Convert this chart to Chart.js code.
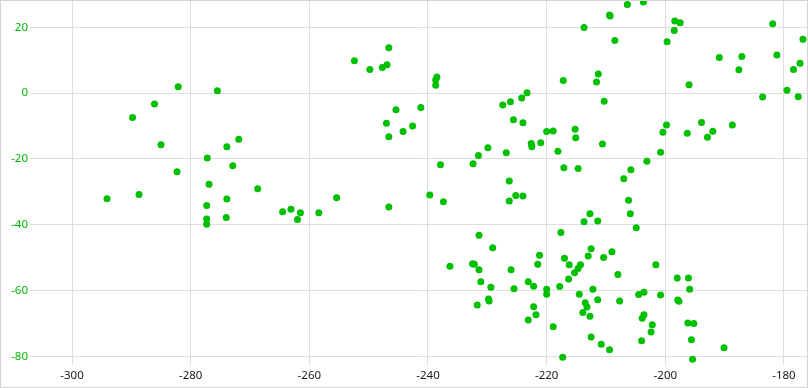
<!DOCTYPE html>
<html>
<head>
<meta charset="utf-8">
<script src="https://cdn.jsdelivr.net/npm/chart.js@4/dist/chart.umd.min.js"></script>
<style>
  html, body { margin: 0; padding: 0; background: #ffffff; }
  #wrap { width: 808px; height: 388px; box-sizing: border-box; border: 1px solid #d4d4d4; background: #fff; }
  canvas { display: block; }
</style>
</head>
<body>
<div id="wrap"><canvas id="c" width="806" height="386"></canvas></div>
<script>
const xValues = [
  -282.1, -275.5, -286.1, -289.8, -285.0, -273.9, -271.9, -277.2, -272.9, -282.3,
  -276.9, -268.7, -288.7, -294.1, -273.9, -277.3, -277.3, -277.3, -274.0, -252.4,
  -249.8, -247.7, -246.9, -246.6, -238.7, -238.7, -238.5, -245.4, -241.2, -247.0,
  -246.6, -244.2, -242.6, -227.4, -226.1, -224.2, -223.3, -225.6, -224.0, -229.9,
  -231.5, -232.4, -226.8, -222.6, -222.5, -221.0, -237.9, -226.3, -225.2, -224.0,
  -226.3, -239.7, -237.4, -255.4, -264.5, -263.1, -262.0, -261.5, -258.4, -246.6,
  -231.4, -229.1, -236.3, -232.5, -232.2, -231.4, -226.0, -231.1, -229.4, -225.5,
  -223.1, -222.2, -221.2, -221.5, -231.7, -229.8, -229.7, -222.2, -221.8, -223.1,
  -206.4, -203.7, -209.4, -209.3, -213.7, -208.5, -198.4, -197.5, -198.5, -199.7,
  -190.9, -187.1, -187.6, -181.9, -181.2, -176.8, -177.3, -178.4, -179.5, -177.6,
  -183.6, -196.0, -217.2, -211.3, -211.6, -210.3, -220.0, -218.9, -215.2, -215.1,
  -218.1, -210.6, -217.1, -214.7, -199.8, -200.4, -200.8, -203.1, -205.8, -207.0,
  -206.2, -196.3, -193.9, -192.9, -192.0, -188.7, -205.9, -204.9, -212.7, -213.7,
  -211.4, -217.6, -212.5, -213.0, -209.0, -210.4, -217.0, -216.2, -214.3, -214.7,
  -215.3, -216.3, -220.0, -220.0, -217.8, -214.5, -212.2, -211.4, -213.5, -213.2,
  -213.9, -212.7, -208.0, -207.7, -201.6, -204.5, -203.6, -200.8, -203.6, -203.9,
  -202.2, -202.4, -204.0, -198.0, -196.1, -195.9, -197.9, -197.7, -196.2, -195.2,
  -195.6, -195.4, -190.1, -218.9, -212.5, -210.8, -209.4, -217.3
];
const yValues = [
    1.9,   0.7,  -3.3,  -7.4, -15.7, -16.3, -14.0, -19.7, -22.1, -23.9,
  -27.7, -29.1, -30.8, -32.1, -32.2, -34.2, -38.3, -39.9, -37.8,   9.8,
    7.2,   7.8,   8.6,  13.8,   2.4,   4.0,   4.9,  -5.1,  -4.4,  -9.2,
  -13.3, -11.7, -10.0,  -3.6,  -2.6,  -1.5,   0.1,  -8.1,  -9.0, -16.6,
  -19.0, -21.5, -18.1, -15.3, -16.3, -15.1, -21.8, -26.7, -31.1, -31.3,
  -32.8, -31.0, -33.0, -31.8, -36.1, -35.3, -38.4, -36.4, -36.4, -34.6,
  -43.2, -47.0, -52.6, -51.9, -52.0, -53.7, -53.7, -57.3, -59.0, -59.5,
  -57.3, -58.7, -49.3, -52.0, -64.4, -62.6, -63.2, -64.9, -67.4, -69.0,
   26.9,  27.7,  23.7,  23.4,  19.9,  16.0,  21.9,  21.4,  19.0,  15.6,
   10.8,  11.1,   7.1,  21.1,  11.6,  16.4,   9.1,   7.2,   0.9,  -1.1,
   -1.2,   2.5,   3.8,   5.8,   3.4,  -2.5, -11.7, -11.5, -11.0, -13.6,
  -17.7, -15.5, -22.7, -22.9,  -9.7, -11.9, -18.0, -20.7, -23.3, -26.0,
  -32.6, -12.2,  -8.9, -13.4, -11.6,  -9.7, -36.7, -40.9, -36.7, -39.1,
  -38.9, -42.4, -47.3, -49.5, -48.2, -50.0, -50.2, -52.2, -52.2, -53.3,
  -54.6, -56.5, -59.6, -61.1, -58.8, -61.1, -59.6, -62.8, -63.7, -65.0,
  -66.7, -67.8, -55.1, -63.2, -52.2, -61.2, -60.5, -61.4, -67.4, -68.4,
  -70.4, -72.6, -75.3, -56.2, -56.2, -59.6, -62.9, -63.3, -69.9, -70.0,
  -75.0, -80.9, -77.4, -71.0, -74.1, -76.3, -78.0, -80.3
];
const xTickStep = 20;
const yTickStep = 20;

const points = xValues.map((x, i) => ({ x: x, y: yValues[i] }));

const FONT = "'Segoe UI', 'Noto Sans', sans-serif";

function noPad(s) {
  s.paddingTop = 0; s.paddingBottom = 0; s.paddingLeft = 0; s.paddingRight = 0;
}

new Chart(document.getElementById('c'), {
  type: 'scatter',
  data: {
    datasets: [{
      data: points,
      backgroundColor: '#00c000',
      borderColor: '#00c000',
      borderWidth: 0,
      pointRadius: 3.5,
      pointHoverRadius: 3.5,
      clip: false
    }]
  },
  options: {
    responsive: false,
    animation: false,
    events: [],
    layout: { padding: 0, autoPadding: false },
    plugins: { legend: { display: false }, tooltip: { enabled: false } },
    scales: {
      x: {
        type: 'linear',
        position: 'bottom',
        min: -307.08,
        max: -176.12,
        border: { display: false },
        grid: { color: '#dedede', lineWidth: 1, drawTicks: false },
        ticks: {
          stepSize: xTickStep,
          includeBounds: false,
          color: '#1a1a1a',
          padding: 4,
          maxRotation: 0,
          font: { family: FONT, size: 11.5 }
        },
        afterFit: (s) => { s.height = 22; noPad(s); }
      },
      y: {
        type: 'linear',
        position: 'left',
        min: -82.64,
        max: 27.99,
        border: { display: false },
        grid: { color: '#dedede', lineWidth: 1, drawTicks: false },
        ticks: {
          stepSize: yTickStep,
          includeBounds: false,
          color: '#00b800',
          padding: 2,
          font: { family: FONT, size: 11.5 }
        },
        afterFit: (s) => { s.width = 29; noPad(s); }
      }
    }
  }
});
</script>
</body>
</html>
